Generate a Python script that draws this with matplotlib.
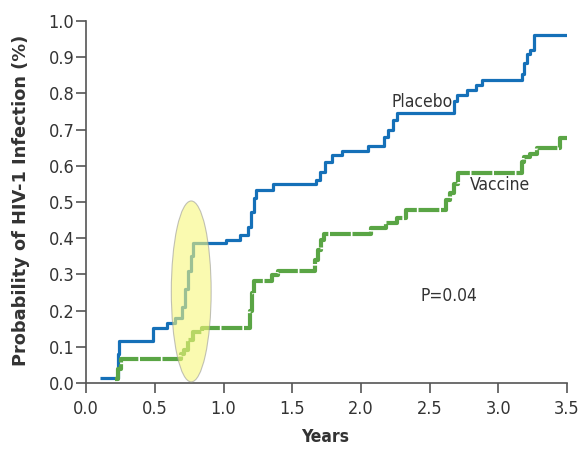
import matplotlib
matplotlib.use("Agg")
import matplotlib.pyplot as plt
from matplotlib.patches import Ellipse

# Data (Kaplan-Meier style step curves)
placebo_t = [0.10, 0.23, 0.235, 0.24, 0.49, 0.59, 0.65, 0.70, 0.72, 0.74, 0.76, 0.78,
             1.02, 1.12, 1.18, 1.20, 1.22, 1.24, 1.36, 1.67, 1.70, 1.74, 1.79, 1.86,
             2.05, 2.17, 2.20, 2.23, 2.26, 2.68, 2.70, 2.77, 2.84, 2.88, 3.17, 3.19,
             3.21, 3.23, 3.26, 3.50]
placebo_p = [0.014, 0.05, 0.08, 0.116, 0.153, 0.167, 0.18, 0.21, 0.26, 0.31, 0.35, 0.386,
             0.395, 0.41, 0.432, 0.473, 0.51, 0.533, 0.55, 0.561, 0.584, 0.611, 0.63, 0.642,
             0.656, 0.68, 0.70, 0.727, 0.745, 0.78, 0.796, 0.81, 0.823, 0.837, 0.855, 0.883,
             0.91, 0.92, 0.961, 0.961]

vaccine_t = [0.21, 0.23, 0.255, 0.69, 0.71, 0.74, 0.78, 0.84, 1.19, 1.21, 1.225, 1.35,
             1.40, 1.667, 1.69, 1.71, 1.73, 2.07, 2.18, 2.26, 2.33, 2.62, 2.65, 2.68,
             2.71, 3.17, 3.19, 3.23, 3.28, 3.45, 3.50]
vaccine_p = [0.011, 0.04, 0.065, 0.08, 0.091, 0.119, 0.142, 0.151, 0.20, 0.25, 0.282, 0.298,
             0.309, 0.34, 0.367, 0.395, 0.413, 0.427, 0.441, 0.455, 0.478, 0.506, 0.524, 0.55,
             0.581, 0.61, 0.625, 0.634, 0.648, 0.678, 0.678]

x_ticks = [0.0, 0.5, 1.0, 1.5, 2.0, 2.5, 3.0, 3.5]
y_ticks = [0.0, 0.1, 0.2, 0.3, 0.4, 0.5, 0.6, 0.7, 0.8, 0.9, 1.0]

plt.rcParams['font.family'] = ['DejaVu Sans']
plt.rcParams['font.stretch'] = 'condensed'

fig = plt.figure(figsize=(5.78, 4.49), dpi=100)
ax = fig.add_axes([0.149, 0.147, 0.832, 0.806])

blue = '#1570b8'
green = '#5aa545'
axis_col = '#555555'
text_col = '#333333'

ax.plot(placebo_t, placebo_p, drawstyle='steps-post', color=blue, lw=2.3,
        solid_capstyle='butt', zorder=3)
ax.plot(vaccine_t, vaccine_p, drawstyle='steps-post', color=green, lw=3.0,
        dashes=(5, 0.4), zorder=3)

ell = Ellipse((0.765, 0.253), 0.29, 0.50, facecolor='#f7f77c', alpha=0.6,
              edgecolor='#999999', lw=0.8, zorder=4)
ax.add_patch(ell)

ax.set_xlim(0, 3.5)
ax.set_ylim(0, 1.0)
ax.set_xticks(x_ticks)
ax.set_yticks(y_ticks)
ax.set_xticklabels([f"{v:.1f}" for v in x_ticks])
ax.set_yticklabels([f"{v:.1f}" for v in y_ticks])

for s in ['top', 'right']:
    ax.spines[s].set_visible(False)
for s in ['left', 'bottom']:
    ax.spines[s].set_color(axis_col)
    ax.spines[s].set_linewidth(1.2)
ax.tick_params(direction='out', length=7, width=1.2, color=axis_col,
               labelsize=13, labelcolor=text_col)
ax.tick_params(axis='y', pad=1.5)
ax.tick_params(axis='x', pad=5)

ax.set_xlabel('Years', fontsize=12.5, fontweight='bold', color=text_col)
ax.xaxis.set_label_coords(0.497, -0.125)
ax.set_ylabel('Probability of HIV-1 Infection (%)', fontsize=12.8, fontweight='bold',
              color=text_col, fontstretch='normal')
ax.yaxis.set_label_coords(-0.116, 0.505)

ax.text(2.225, 0.777, 'Placebo', fontsize=12.5, color=text_col, ha='left', va='center')
ax.text(2.79, 0.547, 'Vaccine', fontsize=12.5, color=text_col, ha='left', va='center')
ax.text(2.43, 0.241, 'P=0.04', fontsize=12.5, color=text_col, ha='left', va='center')

fig.savefig('out.png', dpi=100)
